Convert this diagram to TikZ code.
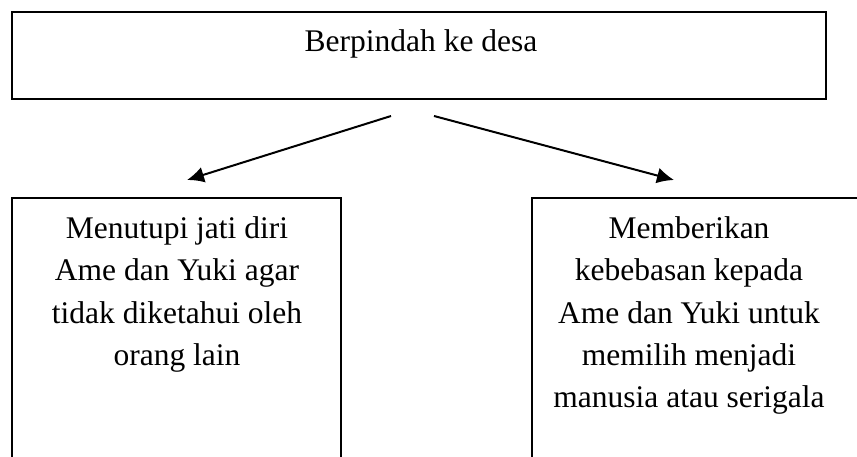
\documentclass[tikz,border=0pt]{standalone}
\usepackage{fontspec}
\setmainfont{Liberation Serif}
\usetikzlibrary{arrows.meta}
\begin{document}
\begin{tikzpicture}[x=1pt,y=1pt,
  boxstyle/.style={draw=black,line width=1.5pt},
  txt/.style={inner sep=0pt,align=center,font=\fontsize{31.5}{42.3}\selectfont},
  arr/.style={line width=2pt,-{Latex[length=17pt,width=16pt]}}]
\useasboundingbox (0,0) rectangle (857,456);
\clip (0,0) rectangle (857,456);
% boxes
\draw[boxstyle] (12,444) rectangle (826,357);
\draw[boxstyle] (12,258) rectangle (341,-20);
\draw[boxstyle] (532,258) rectangle (870,-20);
% texts
\node[txt,anchor=base] (toptext) at (421,404) {Berpindah ke desa};
\node[txt,anchor=north] (lefttext) at (177,239.5) {Menutupi jati diri\\Ame dan Yuki agar\\tidak diketahui oleh\\orang lain};
\node[txt,anchor=north] (righttext) at (689,239.5) {Memberikan\\kebebasan kepada\\Ame dan Yuki untuk\\memilih menjadi\\manusia atau serigala};
% arrows
\coordinate (ls) at (391,340);
\coordinate (le) at (187,276);
\coordinate (rs) at (434,340);
\coordinate (re) at (674,276);
\draw[arr] (ls) -- (le);
\draw[arr] (rs) -- (re);
\end{tikzpicture}
\end{document}
